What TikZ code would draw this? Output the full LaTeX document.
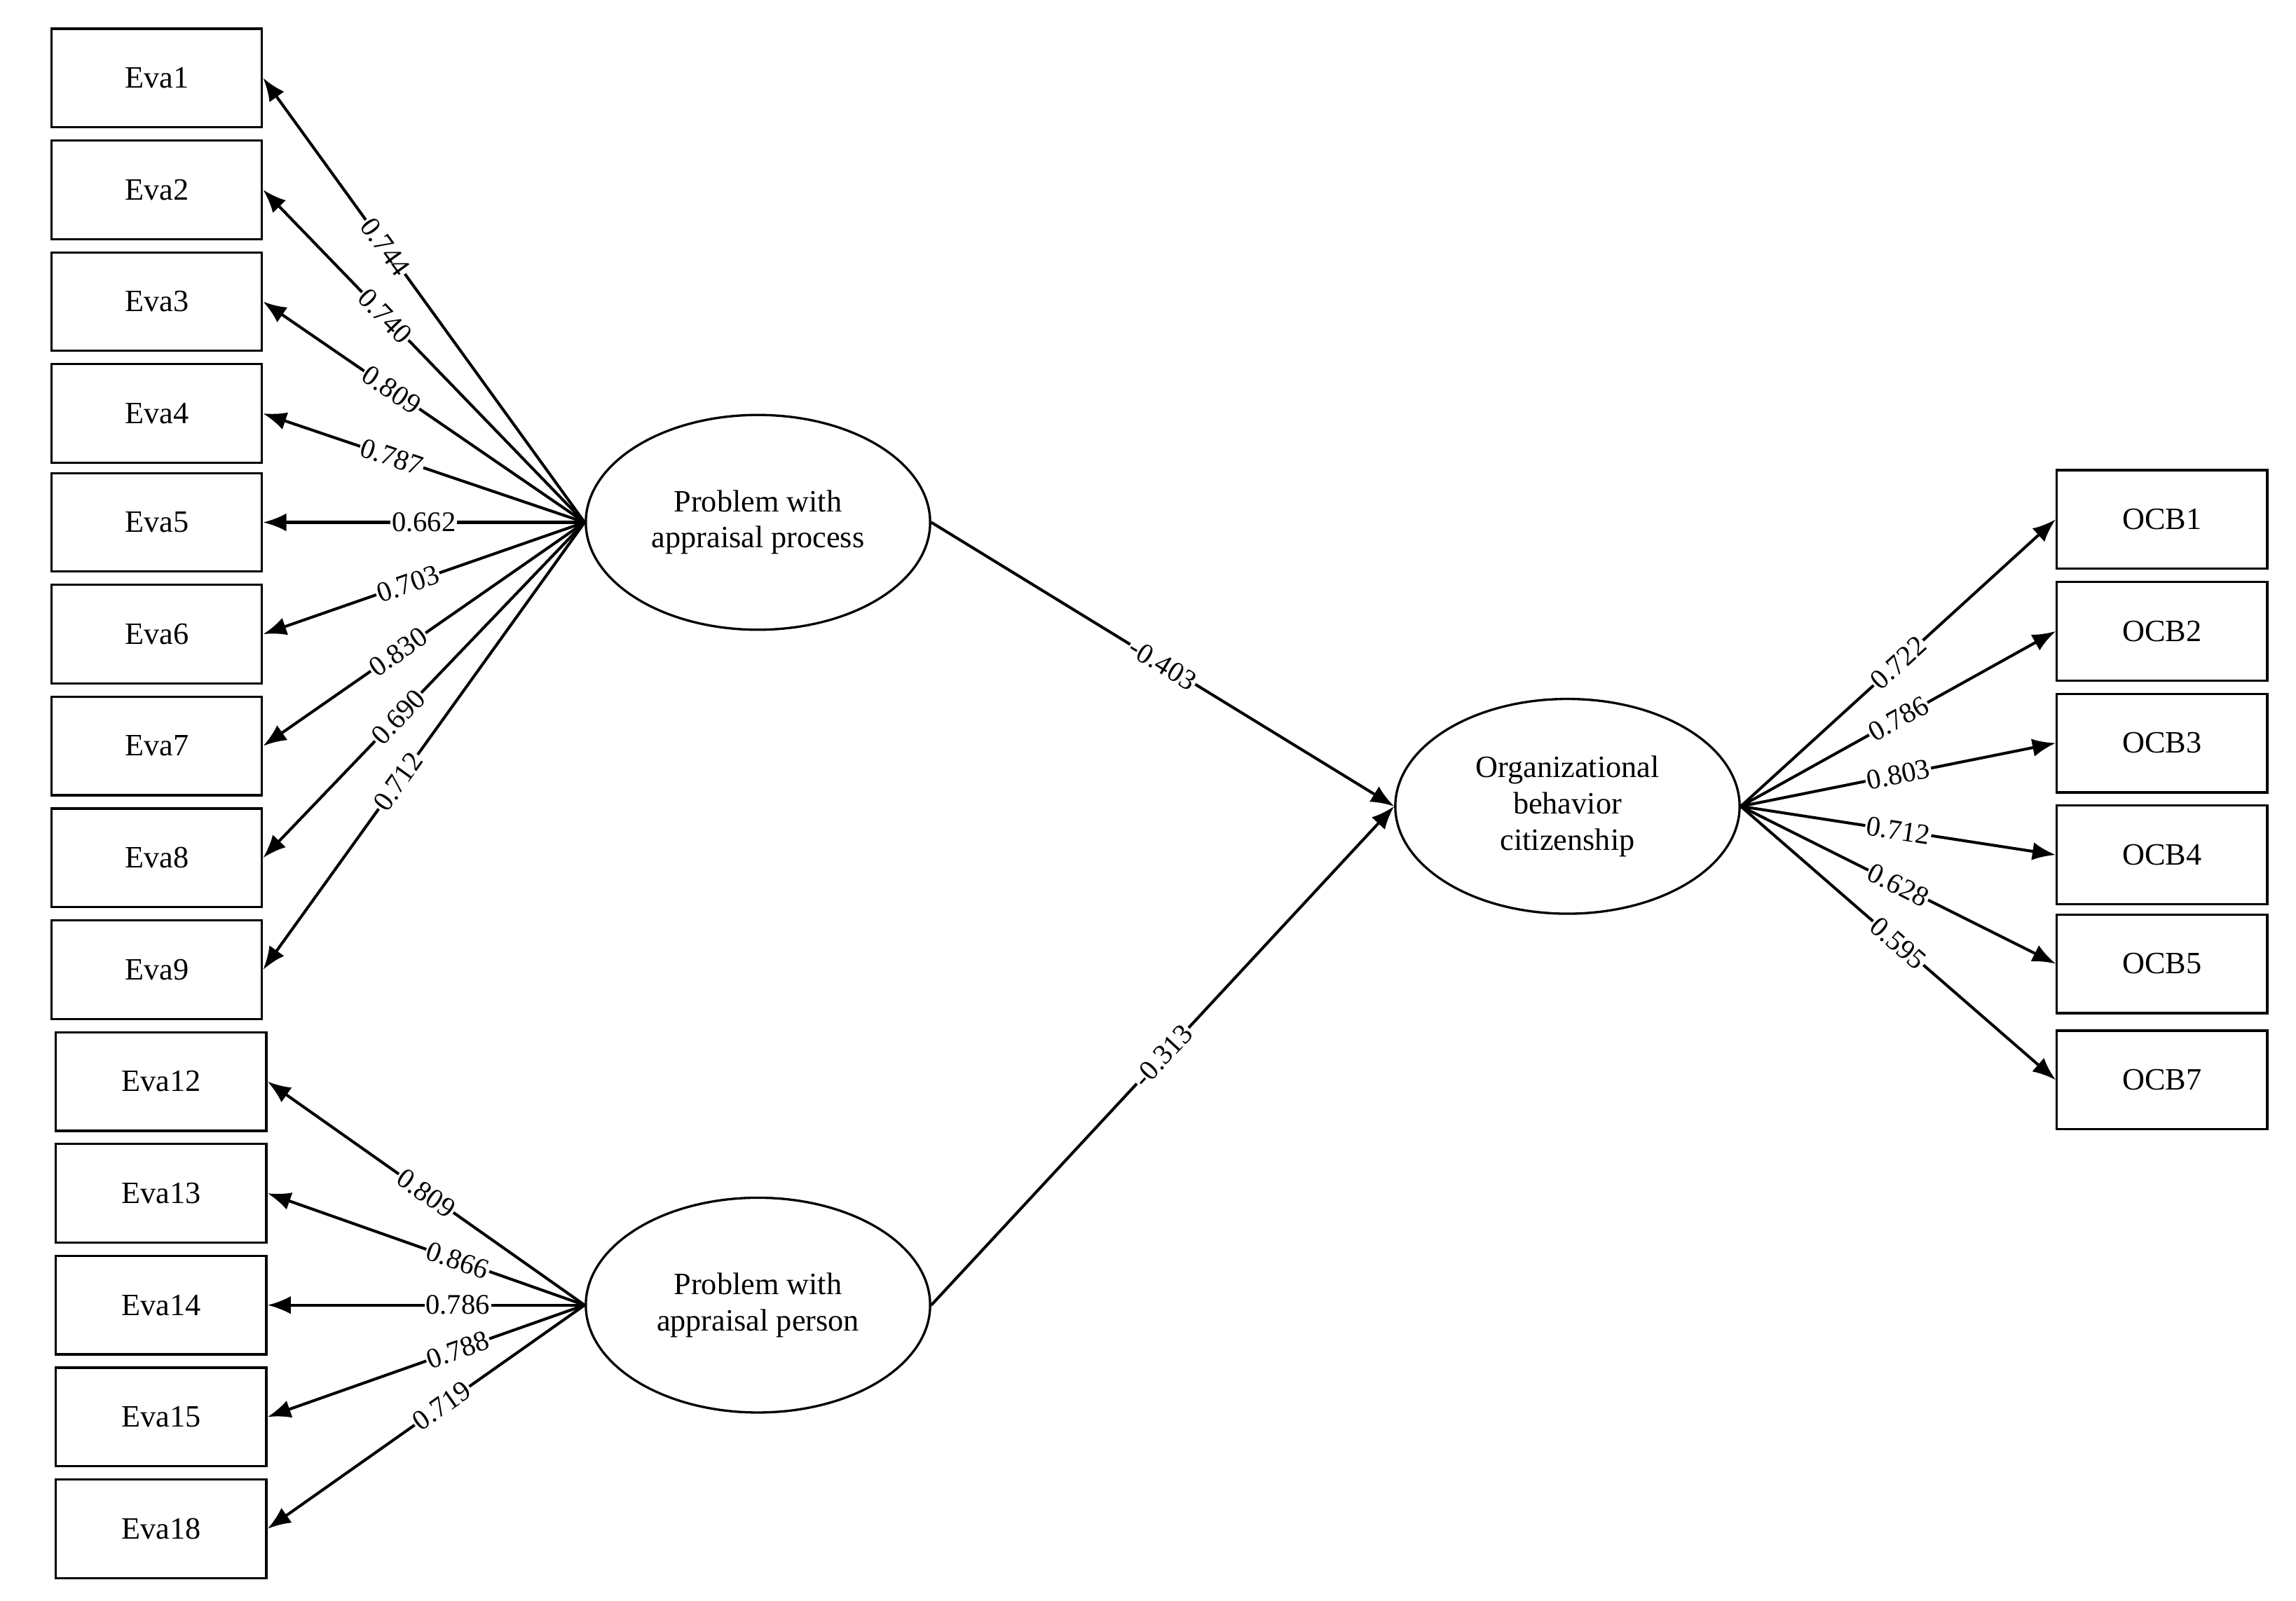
\documentclass[tikz,border=0pt]{standalone}
\usepackage{fontspec}
\setmainfont{Liberation Serif}
\usetikzlibrary{shapes.geometric,arrows.meta}
\begin{document}
\begin{tikzpicture}[x=0.02cm,y=-0.02cm,
 box/.style={draw,line width=0.9pt,minimum width=2.86cm,minimum height=1.34cm,font=\fontsize{12}{14}\selectfont},
 lat/.style={draw,ellipse,line width=0.9pt,minimum width=4.68cm,minimum height=2.92cm,align=center,font=\fontsize{12}{14}\selectfont},
 arr/.style={-{Latex[length=9pt,width=7pt]},line width=1.1pt},
 lb/.style={sloped,fill=white,inner sep=0.5pt,font=\fontsize{11}{12}\selectfont}]
\useasboundingbox (0,0) rectangle (1560,1088);
\foreach \n/\y in {1/53,2/129,3/205,4/281,5/355,6/431,7/507,8/583,9/659}
  \node[box] (e\n) at (106.5,\y) {Eva\n};
\foreach \n/\y in {12/735,13/811,14/887,15/963,18/1039}
  \node[box] (e\n) at (109.5,\y) {Eva\n};
\foreach \n/\y in {1/353,2/429,3/505,4/581,5/655,7/734}
  \node[box] (o\n) at (1469,\y) {OCB\n};
\node[lat] (pp) at (515,355) {Problem with\\appraisal process};
\node[lat] (pr) at (515,887) {Problem with\\appraisal person};
\node[lat] (oc) at (1065,548) {Organizational\\behavior\\citizenship};
\foreach \n/\v/\p in {1/0.744/0.62,2/0.740/0.62,3/0.809/0.6,4/0.787/0.6,5/0.662/0.5,6/0.703/0.55,7/0.830/0.58,8/0.690/0.58,9/0.712/0.58}
  \draw[arr] (pp.west) -- (e\n.east) node[lb,pos=\p] {\v};
\foreach \n/\v/\p in {12/0.809/0.5,13/0.866/0.4,14/0.786/0.4,15/0.788/0.4,18/0.719/0.45}
  \draw[arr] (pr.west) -- (e\n.east) node[lb,pos=\p] {\v};
\foreach \n/\v in {1/0.722,2/0.786,3/0.803,4/0.712,5/0.628,7/0.595}
  \draw[arr] (oc.east) -- (o\n.west) node[lb,pos=0.5] {\v};
\draw[arr] (pp.east) -- (oc.west) node[lb,pos=0.5] {-0.403};
\draw[arr] (pr.east) -- (oc.west) node[lb,pos=0.5] {-0.313};
\end{tikzpicture}
\end{document}
